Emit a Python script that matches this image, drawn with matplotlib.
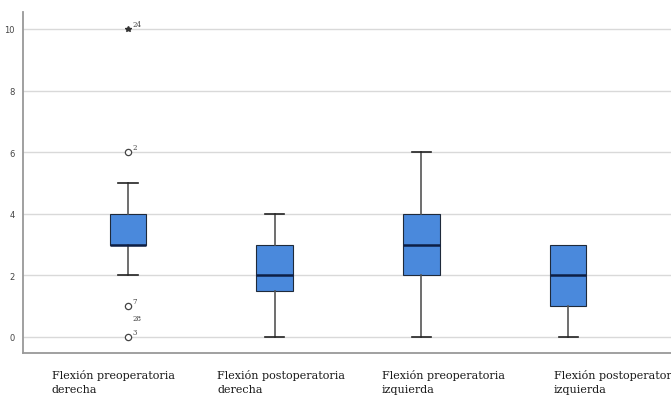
import numpy as np
import matplotlib.pyplot as plt
import matplotlib

matplotlib.rcParams.update({'font.size': 6})

categories = ["Flexión preoperatoria\nderecha", "Flexión postoperatoria\nderecha",
              "Flexión preoperatoria\nizquierda", "Flexión postoperatoria\nizquierda"]
q1 = [3, 1.5, 2, 1]
med = [3, 2, 3, 2]
q3 = [4, 3, 4, 3]
whislo = [2, 0, 0, 0]
whishi = [5, 4, 6, 3]

# outliers (circles) and extremes (stars) with case numbers
out_x = [1, 1, 1]
out_y = [6, 1, 0]
out_lab = ["2", "7", "3"]
ext_x = [1]
ext_y = [10]
ext_lab = ["24"]

fig = plt.figure(figsize=(6.71, 4.02), dpi=100)
ax = fig.add_axes([23 / 671, 48 / 402, 1 - 23 / 671, 341 / 402])

stats = []
for i in range(len(categories)):
    stats.append(dict(q1=q1[i], med=med[i], q3=q3[i], whislo=whislo[i],
                      whishi=whishi[i], fliers=[]))

bp = ax.bxp(stats, positions=np.arange(1, 5), widths=0.25, patch_artist=True,
            showfliers=False,
            boxprops=dict(facecolor='#4a89dc', edgecolor='#1f2a3a', linewidth=0.8),
            medianprops=dict(color='#0d1f45', linewidth=1.8),
            whiskerprops=dict(color='#555555', linewidth=1.2),
            capprops=dict(color='#222222', linewidth=1.2),
            capwidths=0.13)

# no whisker/cap when it collapses onto the box edge
for i in range(len(categories)):
    if whishi[i] == q3[i]:
        bp['caps'][2 * i + 1].set_visible(False)
        bp['whiskers'][2 * i + 1].set_visible(False)
    if whislo[i] == q1[i]:
        bp['caps'][2 * i].set_visible(False)
        bp['whiskers'][2 * i].set_visible(False)

ax.plot(out_x, out_y, 'o', mfc='white', mec='#444444', ms=4.5, mew=0.9, zorder=4)
ax.plot(ext_x, ext_y, '*', color='#333333', ms=4, zorder=4)

for x, y, s in zip(out_x, out_y, out_lab):
    ax.text(x + 0.03, y + 0.1, s, fontsize=5, color='#444444', family='DejaVu Serif')
ax.text(1.03, 0.55, "28", fontsize=5, color='#444444', family='DejaVu Serif')
for x, y, s in zip(ext_x, ext_y, ext_lab):
    ax.text(x + 0.03, y + 0.1, s, fontsize=5, color='#444444', family='DejaVu Serif')

ax.set_xlim(0.284, 4.702)
ax.set_ylim(-0.52, 10.55)
ax.set_yticks([0, 2, 4, 6, 8, 10])
ax.set_xticks([1, 2, 3, 4])
ax.set_xticklabels([])
ax.tick_params(axis='both', length=0, colors='#444444', pad=6)
ax.grid(axis='y', color='#d9d9d9', linewidth=1)
ax.set_axisbelow(True)
for s in ['top', 'right']:
    ax.spines[s].set_visible(False)
for s in ['left', 'bottom']:
    ax.spines[s].set_color('#999999')
    ax.spines[s].set_linewidth(1.3)

label_x = [52, 217, 382, 554]
for x, lab in zip(label_x, categories):
    fig.text(x / 671, 1 - 370 / 402, lab, fontsize=8, family='DejaVu Serif',
             color='#1a1a1a', ha='left', va='top', linespacing=1.5)

plt.savefig("out.png", dpi=100)
